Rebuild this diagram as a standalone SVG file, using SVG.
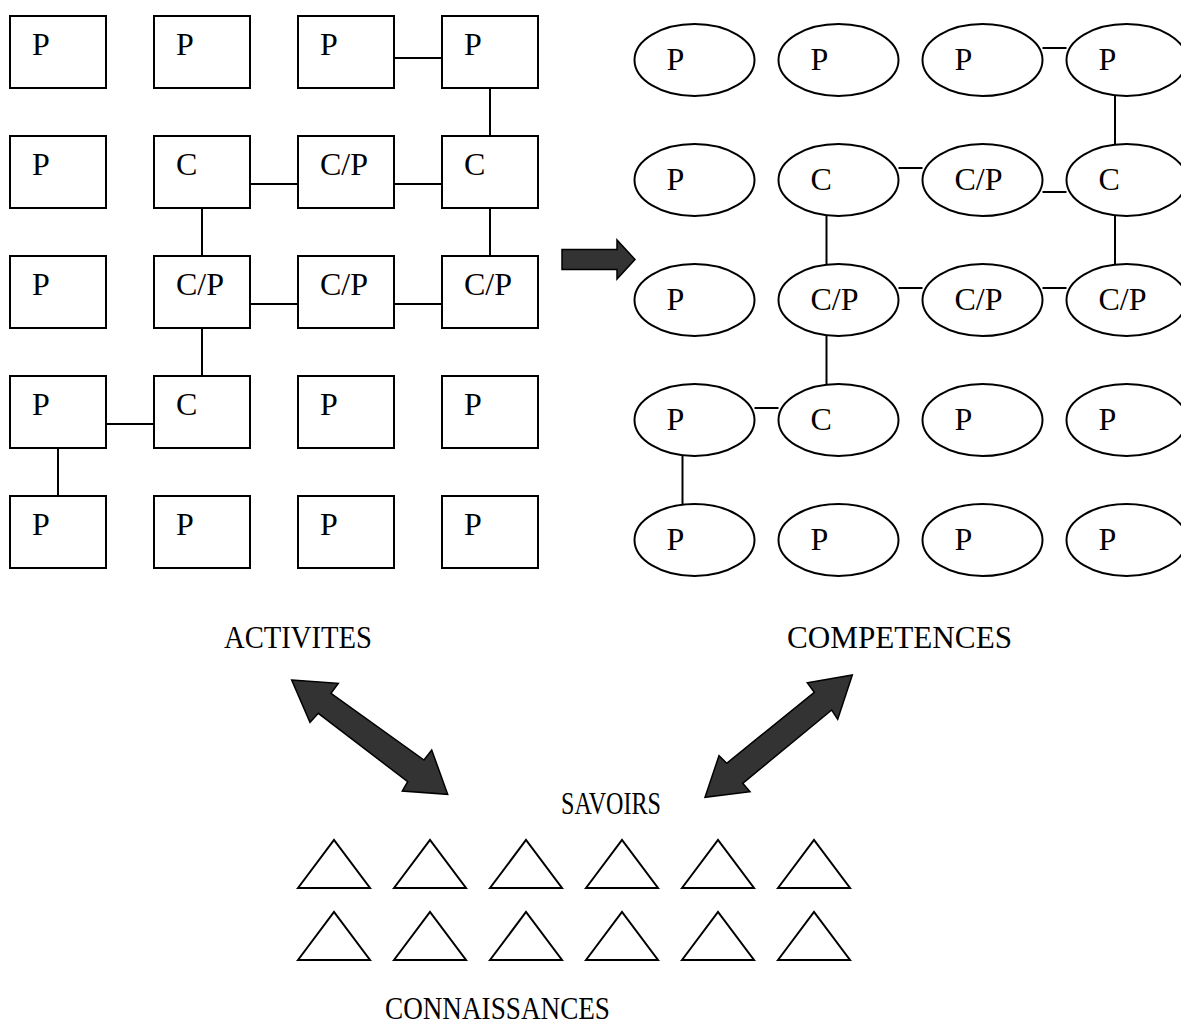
<svg xmlns="http://www.w3.org/2000/svg" width="1181" height="1029" viewBox="0 0 1181 1029">
<style>
.n rect,.n ellipse,.tri polygon{fill:#fff;stroke:#000;stroke-width:2}
.n text{font-family:"Liberation Serif","Times New Roman",serif;font-size:32px;fill:#000}
#connectors line{stroke:#000;stroke-width:2}
.big{fill:#333;stroke:#000;stroke-width:1.5;stroke-linejoin:miter}
.lbl{font-family:"Liberation Serif","Times New Roman",serif;font-size:31px;fill:#000}
</style>
<rect width="1181" height="1029" fill="#fff"/>
<g id="connectors">
<line x1="395" y1="58" x2="442" y2="58"/>
<line x1="490" y1="88" x2="490" y2="136"/>
<line x1="250" y1="184" x2="298" y2="184"/>
<line x1="394" y1="184" x2="442" y2="184"/>
<line x1="202" y1="208" x2="202" y2="256"/>
<line x1="490" y1="208" x2="490" y2="256"/>
<line x1="250" y1="304" x2="298" y2="304"/>
<line x1="394" y1="304" x2="442" y2="304"/>
<line x1="202" y1="328" x2="202" y2="376"/>
<line x1="106" y1="424" x2="154" y2="424"/>
<line x1="58" y1="448" x2="58" y2="496"/>
<line x1="1042.5" y1="48" x2="1066.5" y2="48"/>
<line x1="1115" y1="95" x2="1115" y2="145"/>
<line x1="898.5" y1="168" x2="922.5" y2="168"/>
<line x1="1042.5" y1="192" x2="1066.5" y2="192"/>
<line x1="826.5" y1="216" x2="826.5" y2="265"/>
<line x1="1115" y1="215" x2="1115" y2="265"/>
<line x1="898.5" y1="288" x2="922.5" y2="288"/>
<line x1="1042.5" y1="288" x2="1066.5" y2="288"/>
<line x1="826.5" y1="336" x2="826.5" y2="385"/>
<line x1="754.5" y1="408" x2="778.5" y2="408"/>
<line x1="682.5" y1="456" x2="682.5" y2="505"/>
</g>
<g id="activites">
<g id="a11" class="n"><rect x="10" y="16" width="96" height="72"/><text x="32" y="55">P</text></g>
<g id="a12" class="n"><rect x="154" y="16" width="96" height="72"/><text x="176" y="55">P</text></g>
<g id="a13" class="n"><rect x="298" y="16" width="96" height="72"/><text x="320" y="55">P</text></g>
<g id="a14" class="n"><rect x="442" y="16" width="96" height="72"/><text x="464" y="55">P</text></g>
<g id="a21" class="n"><rect x="10" y="136" width="96" height="72"/><text x="32" y="175">P</text></g>
<g id="a22" class="n"><rect x="154" y="136" width="96" height="72"/><text x="176" y="175">C</text></g>
<g id="a23" class="n"><rect x="298" y="136" width="96" height="72"/><text x="320" y="175">C/P</text></g>
<g id="a24" class="n"><rect x="442" y="136" width="96" height="72"/><text x="464" y="175">C</text></g>
<g id="a31" class="n"><rect x="10" y="256" width="96" height="72"/><text x="32" y="295">P</text></g>
<g id="a32" class="n"><rect x="154" y="256" width="96" height="72"/><text x="176" y="295">C/P</text></g>
<g id="a33" class="n"><rect x="298" y="256" width="96" height="72"/><text x="320" y="295">C/P</text></g>
<g id="a34" class="n"><rect x="442" y="256" width="96" height="72"/><text x="464" y="295">C/P</text></g>
<g id="a41" class="n"><rect x="10" y="376" width="96" height="72"/><text x="32" y="415">P</text></g>
<g id="a42" class="n"><rect x="154" y="376" width="96" height="72"/><text x="176" y="415">C</text></g>
<g id="a43" class="n"><rect x="298" y="376" width="96" height="72"/><text x="320" y="415">P</text></g>
<g id="a44" class="n"><rect x="442" y="376" width="96" height="72"/><text x="464" y="415">P</text></g>
<g id="a51" class="n"><rect x="10" y="496" width="96" height="72"/><text x="32" y="535">P</text></g>
<g id="a52" class="n"><rect x="154" y="496" width="96" height="72"/><text x="176" y="535">P</text></g>
<g id="a53" class="n"><rect x="298" y="496" width="96" height="72"/><text x="320" y="535">P</text></g>
<g id="a54" class="n"><rect x="442" y="496" width="96" height="72"/><text x="464" y="535">P</text></g>
</g>
<g id="competences">
<g id="c11" class="n"><ellipse cx="694.5" cy="60" rx="60" ry="36"/><text x="666.5" y="70">P</text></g>
<g id="c12" class="n"><ellipse cx="838.5" cy="60" rx="60" ry="36"/><text x="810.5" y="70">P</text></g>
<g id="c13" class="n"><ellipse cx="982.5" cy="60" rx="60" ry="36"/><text x="954.5" y="70">P</text></g>
<g id="c14" class="n"><ellipse cx="1126.5" cy="60" rx="60" ry="36"/><text x="1098.5" y="70">P</text></g>
<g id="c21" class="n"><ellipse cx="694.5" cy="180" rx="60" ry="36"/><text x="666.5" y="190">P</text></g>
<g id="c22" class="n"><ellipse cx="838.5" cy="180" rx="60" ry="36"/><text x="810.5" y="190">C</text></g>
<g id="c23" class="n"><ellipse cx="982.5" cy="180" rx="60" ry="36"/><text x="954.5" y="190">C/P</text></g>
<g id="c24" class="n"><ellipse cx="1126.5" cy="180" rx="60" ry="36"/><text x="1098.5" y="190">C</text></g>
<g id="c31" class="n"><ellipse cx="694.5" cy="300" rx="60" ry="36"/><text x="666.5" y="310">P</text></g>
<g id="c32" class="n"><ellipse cx="838.5" cy="300" rx="60" ry="36"/><text x="810.5" y="310">C/P</text></g>
<g id="c33" class="n"><ellipse cx="982.5" cy="300" rx="60" ry="36"/><text x="954.5" y="310">C/P</text></g>
<g id="c34" class="n"><ellipse cx="1126.5" cy="300" rx="60" ry="36"/><text x="1098.5" y="310">C/P</text></g>
<g id="c41" class="n"><ellipse cx="694.5" cy="420" rx="60" ry="36"/><text x="666.5" y="430">P</text></g>
<g id="c42" class="n"><ellipse cx="838.5" cy="420" rx="60" ry="36"/><text x="810.5" y="430">C</text></g>
<g id="c43" class="n"><ellipse cx="982.5" cy="420" rx="60" ry="36"/><text x="954.5" y="430">P</text></g>
<g id="c44" class="n"><ellipse cx="1126.5" cy="420" rx="60" ry="36"/><text x="1098.5" y="430">P</text></g>
<g id="c51" class="n"><ellipse cx="694.5" cy="540" rx="60" ry="36"/><text x="666.5" y="550">P</text></g>
<g id="c52" class="n"><ellipse cx="838.5" cy="540" rx="60" ry="36"/><text x="810.5" y="550">P</text></g>
<g id="c53" class="n"><ellipse cx="982.5" cy="540" rx="60" ry="36"/><text x="954.5" y="550">P</text></g>
<g id="c54" class="n"><ellipse cx="1126.5" cy="540" rx="60" ry="36"/><text x="1098.5" y="550">P</text></g>
</g>
<g id="arrows">
<polygon class="big" points="562,249.5 617,249.5 617,240 635,259.5 617,279 617,269.5 562,269.5"/>
<polygon class="big" points="291.7,680 338.3,683.3 331,693.3 424,760 431.7,750 447.7,794.3 402.3,791 407.7,781.7 318.3,713.3 310,722.3"/>
<polygon class="big" points="852.3,675 837.7,719.3 831.7,710 742.7,783.3 750,791.7 705,797.3 719,755.7 726.7,763.3 814.3,692.3 807.3,682.7"/>
</g>
<g id="labels">
<text class="lbl" x="224" y="648" textLength="148" lengthAdjust="spacingAndGlyphs">ACTIVITES</text>
<text class="lbl" x="787" y="648" textLength="225" lengthAdjust="spacingAndGlyphs">COMPETENCES</text>
<text class="lbl" x="561" y="814" textLength="100" lengthAdjust="spacingAndGlyphs">SAVOIRS</text>
<text class="lbl" x="385" y="1019" textLength="225" lengthAdjust="spacingAndGlyphs">CONNAISSANCES</text>
</g>
<g id="savoirs" class="tri">
<polygon points="298,888 334,840 370,888"/>
<polygon points="394,888 430,840 466,888"/>
<polygon points="490,888 526,840 562,888"/>
<polygon points="586,888 622,840 658,888"/>
<polygon points="682,888 718,840 754,888"/>
<polygon points="778,888 814,840 850,888"/>
<polygon points="298,960 334,912 370,960"/>
<polygon points="394,960 430,912 466,960"/>
<polygon points="490,960 526,912 562,960"/>
<polygon points="586,960 622,912 658,960"/>
<polygon points="682,960 718,912 754,960"/>
<polygon points="778,960 814,912 850,960"/>
</g>
</svg>
